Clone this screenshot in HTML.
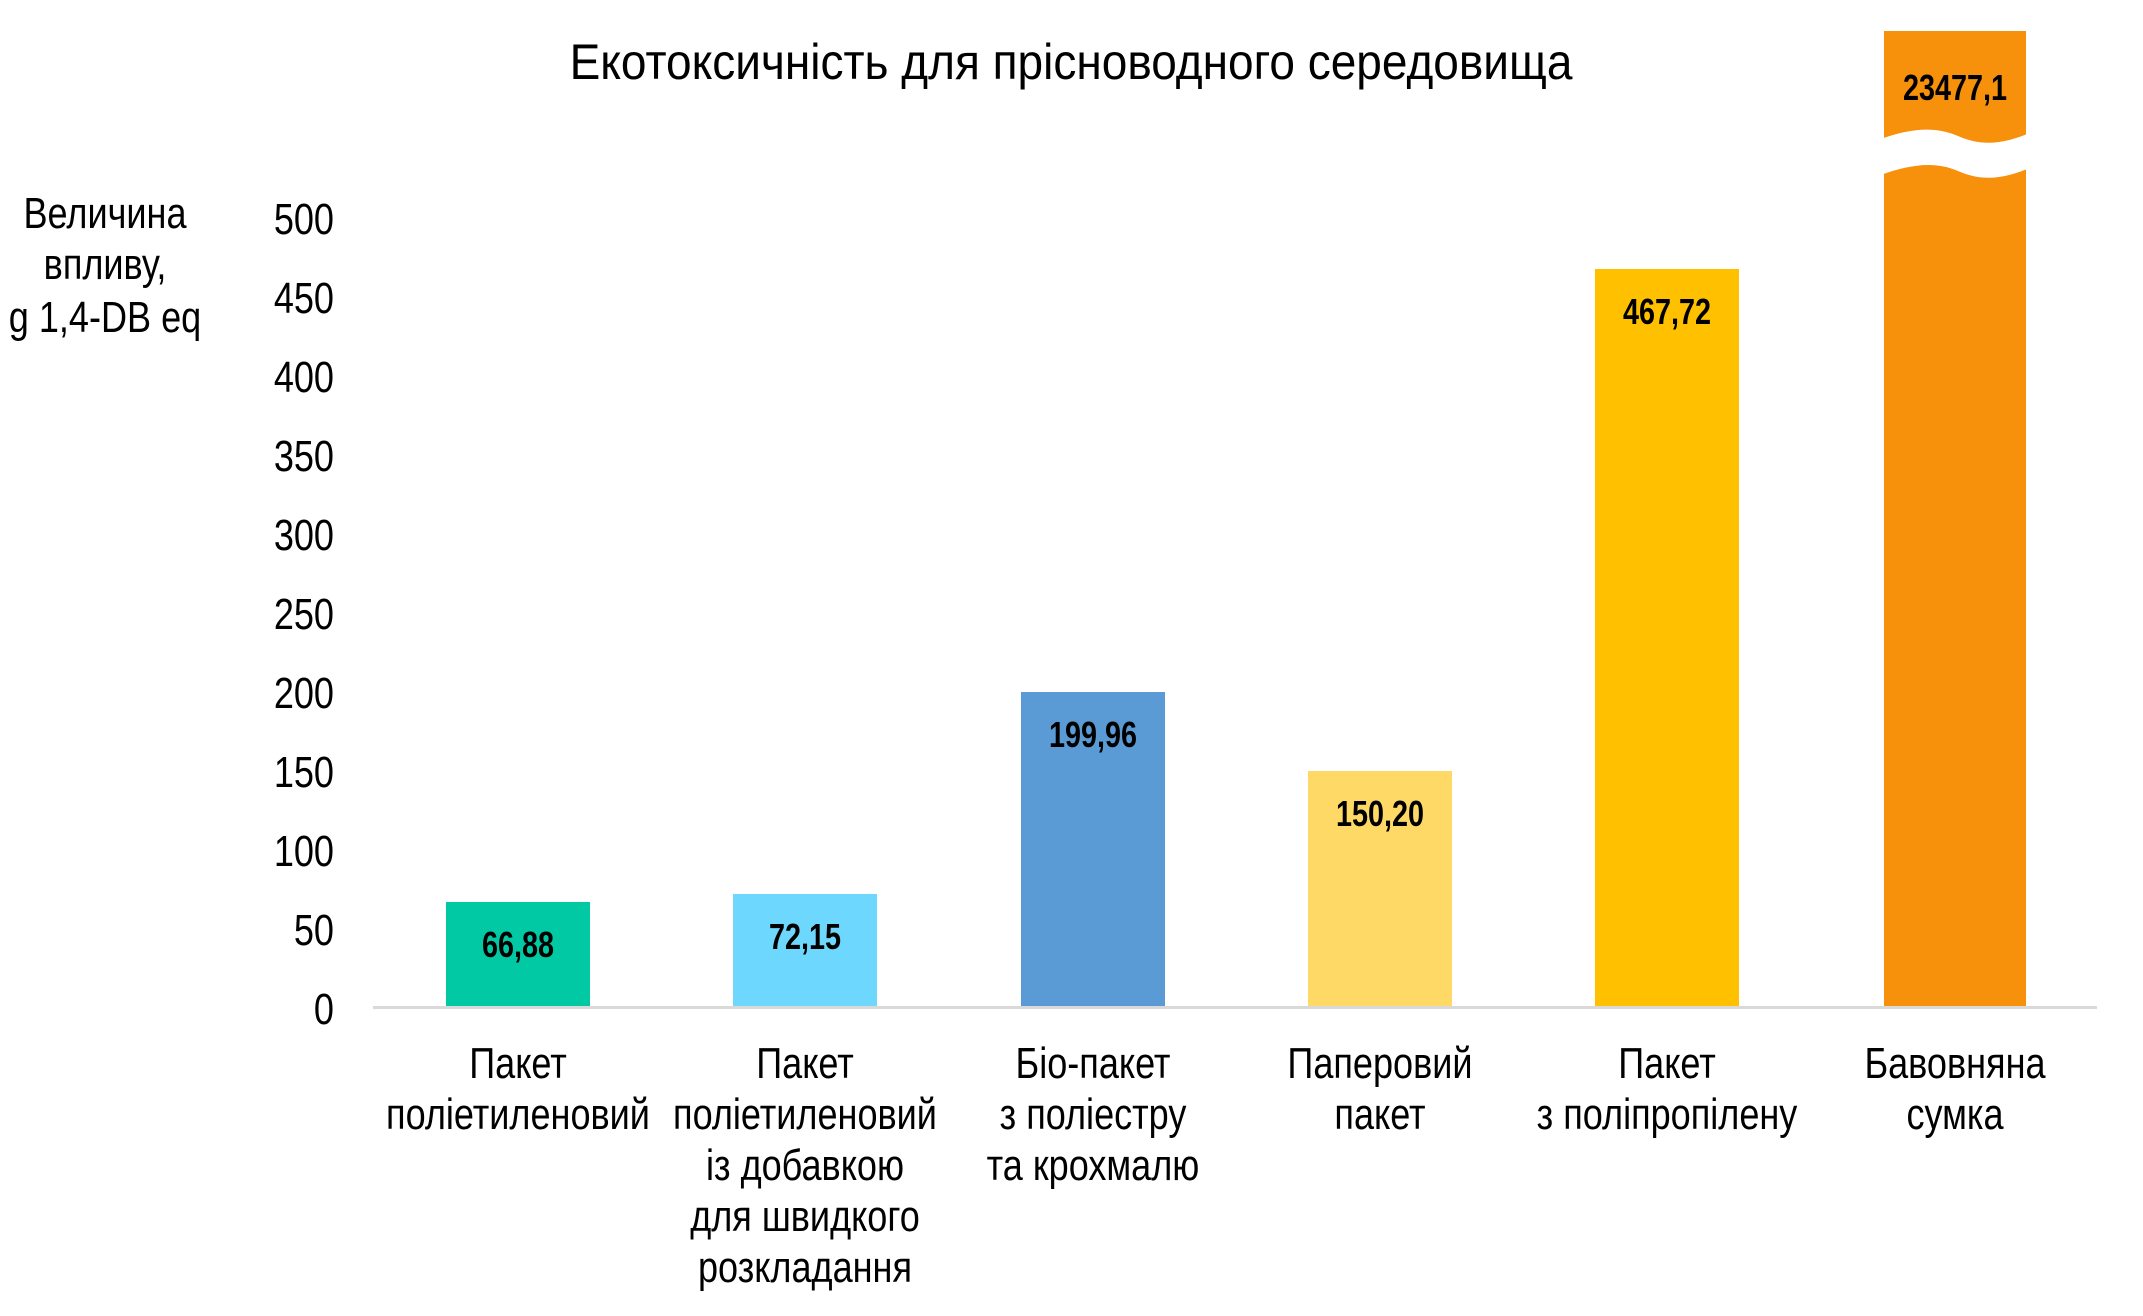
<!DOCTYPE html>
<html><head><meta charset="utf-8"><style>
body{margin:0;background:#fff}
svg{display:block}
text{font-family:"Liberation Sans Narrow","Liberation Sans",sans-serif}
</style></head><body>
<svg width="2143" height="1316" viewBox="0 0 2143 1316">
<text transform="translate(1071,79) scale(0.92,1)" font-size="50" text-anchor="middle">Екотоксичність для прісноводного середовища</text>
<g font-size="44" text-anchor="middle">
<text transform="translate(105,228) scale(0.82,1)">Величина</text>
<text transform="translate(105,279) scale(0.82,1)">впливу,</text>
<text transform="translate(105,332) scale(0.82,1)">g 1,4-DB eq</text>
</g>
<g font-size="44" text-anchor="end">
<text transform="translate(334,1024) scale(0.82,1)">0</text>
<text transform="translate(334,945) scale(0.82,1)">50</text>
<text transform="translate(334,866) scale(0.82,1)">100</text>
<text transform="translate(334,787) scale(0.82,1)">150</text>
<text transform="translate(334,708) scale(0.82,1)">200</text>
<text transform="translate(334,629) scale(0.82,1)">250</text>
<text transform="translate(334,550) scale(0.82,1)">300</text>
<text transform="translate(334,471) scale(0.82,1)">350</text>
<text transform="translate(334,392) scale(0.82,1)">400</text>
<text transform="translate(334,313) scale(0.82,1)">450</text>
<text transform="translate(334,234) scale(0.82,1)">500</text>
</g>
<rect x="446" y="902" width="144" height="106" fill="#00c9a3"/>
<rect x="733" y="894" width="144" height="114" fill="#6dd7fd"/>
<rect x="1021" y="692" width="144" height="316" fill="#5b9bd5"/>
<rect x="1308" y="771" width="144" height="237" fill="#ffd966"/>
<rect x="1595" y="269" width="144" height="739" fill="#ffc000"/>
<rect x="1884" y="31" width="142" height="977" fill="#f7900a"/>
<path d="M1878 140 C1910 128 1935 126 1958 136 C1983 147 2005 144 2034 131 L2034 166 C2005 179 1983 182 1958 171 C1935 161 1910 164 1878 176 Z" fill="#fff"/>
<rect x="2026" y="31" width="10" height="190" fill="#fff"/>
<rect x="373" y="1006" width="1724" height="3" fill="#d9d9d9"/>
<g font-size="36" font-weight="bold" text-anchor="middle">
<text transform="translate(518,957) scale(0.8,1)">66,88</text>
<text transform="translate(805,949) scale(0.8,1)">72,15</text>
<text transform="translate(1093,747) scale(0.8,1)">199,96</text>
<text transform="translate(1380,826) scale(0.8,1)">150,20</text>
<text transform="translate(1667,324) scale(0.8,1)">467,72</text>
<text transform="translate(1955,100) scale(0.8,1)">23477,1</text>
</g>
<g font-size="44" text-anchor="middle">
<text transform="translate(518,1078) scale(0.82,1)">Пакет</text>
<text transform="translate(518,1129) scale(0.82,1)">поліетиленовий</text>
<text transform="translate(805,1078) scale(0.82,1)">Пакет</text>
<text transform="translate(805,1129) scale(0.82,1)">поліетиленовий</text>
<text transform="translate(805,1180) scale(0.82,1)">із добавкою</text>
<text transform="translate(805,1231) scale(0.82,1)">для швидкого</text>
<text transform="translate(805,1282) scale(0.82,1)">розкладання</text>
<text transform="translate(1093,1078) scale(0.82,1)">Біо-пакет</text>
<text transform="translate(1093,1129) scale(0.82,1)">з поліестру</text>
<text transform="translate(1093,1180) scale(0.82,1)">та крохмалю</text>
<text transform="translate(1380,1078) scale(0.82,1)">Паперовий</text>
<text transform="translate(1380,1129) scale(0.82,1)">пакет</text>
<text transform="translate(1667,1078) scale(0.82,1)">Пакет</text>
<text transform="translate(1667,1129) scale(0.82,1)">з поліпропілену</text>
<text transform="translate(1955,1078) scale(0.82,1)">Бавовняна</text>
<text transform="translate(1955,1129) scale(0.82,1)">сумка</text>
</g>
</svg>
</body></html>
